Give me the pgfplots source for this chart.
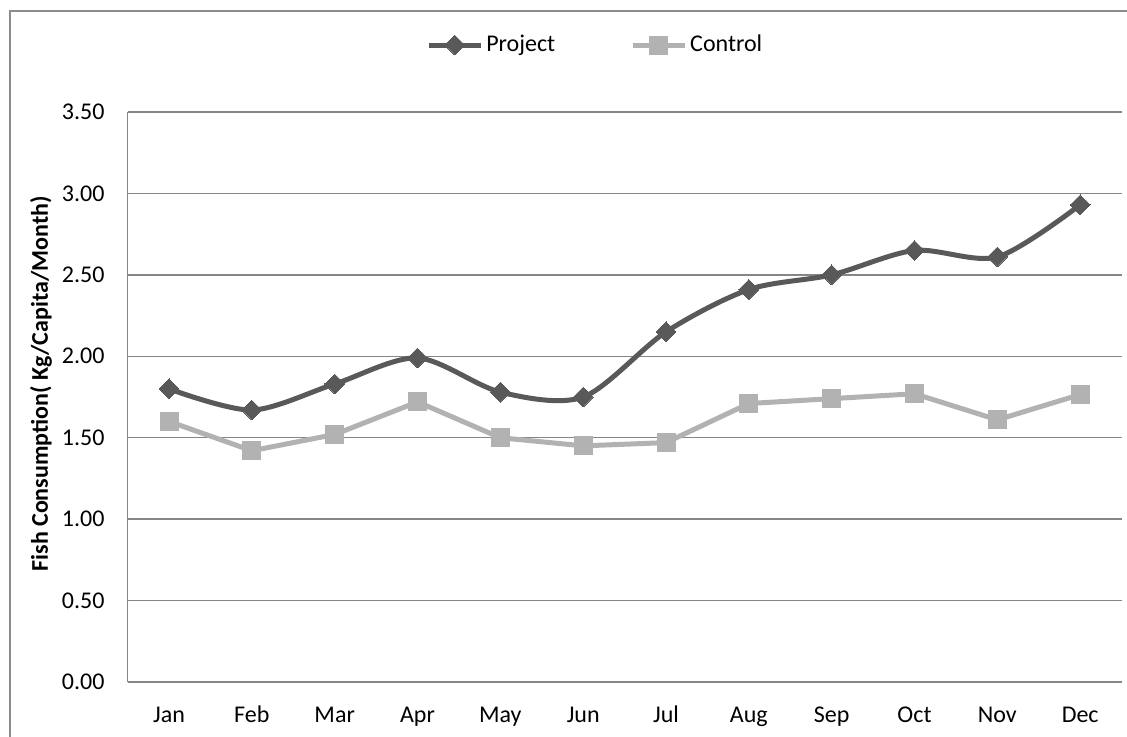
\documentclass[border=0pt]{standalone}
\usepackage{fontspec}
\setmainfont{Carlito}
\usepackage{pgfplots}
\pgfplotsset{compat=1.18}

\definecolor{projcol}{HTML}{595959}
\definecolor{ctrlcol}{HTML}{B2B2B2}
\definecolor{gridcol}{HTML}{868686}
\definecolor{framecol}{HTML}{8C8C8C}

\begin{document}
\begin{tikzpicture}
\begin{axis}[
    scale only axis,
    width=497pt, height=285pt,
    font=\fontsize{12}{14.4}\selectfont,
    xmin=-0.5, xmax=11.5,
    ymin=0, ymax=3.5,
    xtick=data,
    xticklabels={Jan,Feb,Mar,Apr,May,Jun,Jul,Aug,Sep,Oct,Nov,Dec},
    ytick={0,0.5,...,3.5},
    /pgf/number format/.cd, fixed, fixed zerofill, precision=2, assume math mode=true,
    /pgfplots/.cd,
    major tick length=0pt,
    axis x line*=bottom,
    axis y line*=left,
    axis line style={gridcol, line width=0.75pt, -},
    ymajorgrids,
    grid style={gridcol, line width=0.75pt},
    xticklabel style={anchor=base, yshift=-20.3pt},
    yticklabel style={xshift=-8pt},
    ylabel={\textbf{Fish Consumption( Kg/Capita/Month)}},
    ylabel style={at={(axis description cs:-0.0871,0.523)}, anchor=center},
    legend style={at={(0.471,1.1175)}, anchor=center, draw=none,
        legend columns=2, font=\fontsize{12}{14.4}\selectfont,
        /tikz/every even column/.append style={column sep=36pt},
        nodes={inner sep=1.5pt}},
    legend image code/.code={\draw[mark repeat=2, mark phase=2, #1]
        plot coordinates {(0pt,0pt) (13pt,0pt) (26pt,0pt)};},
]
\addplot[projcol, line width=2.5pt, smooth, tension=0.5,
    mark=square*, mark size=3.5pt, mark options={rotate=45, solid, line width=0pt}]
coordinates {
    (0,1.80) (1,1.67) (2,1.83) (3,1.99) (4,1.78) (5,1.75)
    (6,2.15) (7,2.41) (8,2.50) (9,2.65) (10,2.61) (11,2.93)
};
\addplot[ctrlcol, line width=2.5pt,
    mark=square*, mark size=4.5pt, mark options={solid, line width=0pt}]
coordinates {
    (0,1.60) (1,1.42) (2,1.52) (3,1.72) (4,1.50) (5,1.45)
    (6,1.47) (7,1.71) (8,1.74) (9,1.77) (10,1.61) (11,1.765)
};
\legend{Project, Control}
\end{axis}
\draw[framecol, line width=1pt] (-58.8pt,-40pt) -- (-58.8pt,335.5pt) -- (520pt,335.5pt);
\pgfresetboundingbox
\useasboundingbox (-63.8pt,-27pt) rectangle (499.7pt,341pt);
\end{tikzpicture}
\end{document}
